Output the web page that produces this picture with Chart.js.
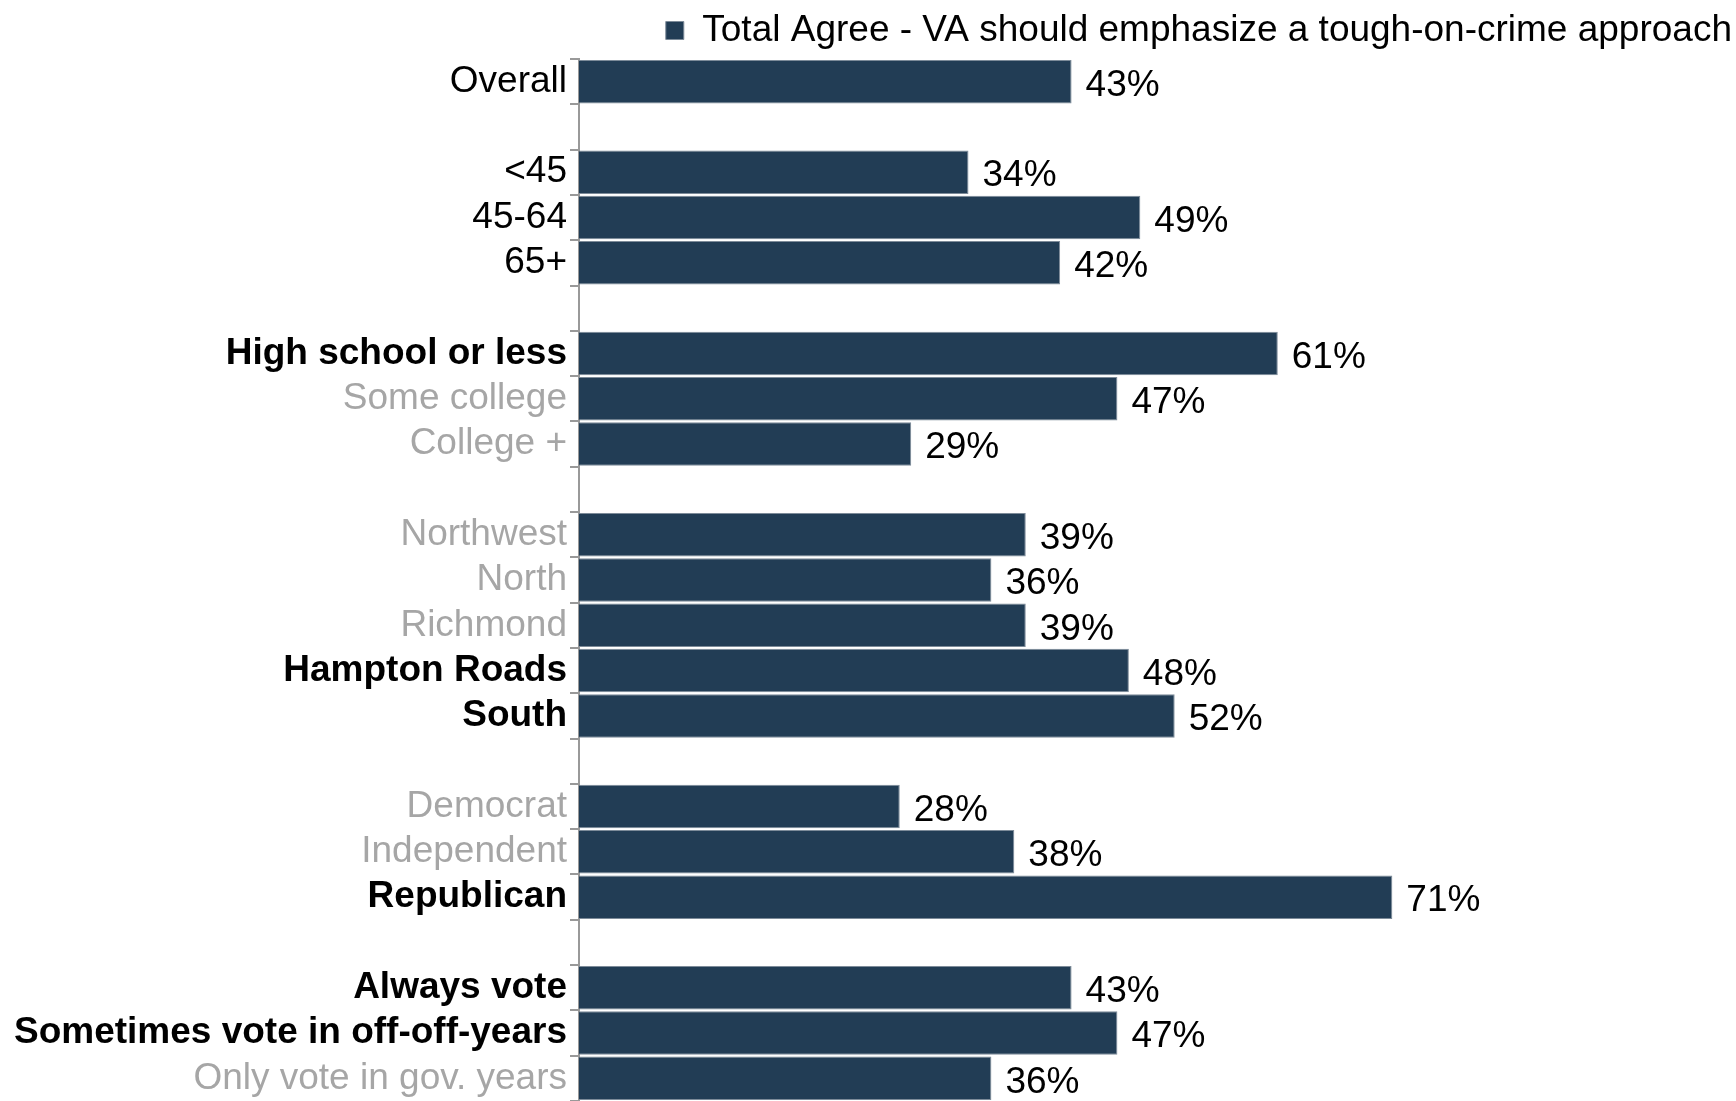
<!DOCTYPE html>
<html>
<head>
<meta charset="utf-8">
<script src="https://cdn.jsdelivr.net/npm/chart.js@4.4.1/dist/chart.umd.min.js"></script>
<style>
  html, body { margin: 0; padding: 0; background: #fff; }
  #wrap { width: 1736px; height: 1101px; position: relative; }
</style>
</head>
<body>
<div id="wrap"><canvas id="crimeChart"></canvas></div>
<script>
// ==========================
// DATOS
// ==========================
const categories = [
    "Overall", "",
    "<45", "45-64", "65+", "",
    "High school or less", "Some college", "College +", "",
    "Northwest", "North", "Richmond", "Hampton Roads", "South", "",
    "Democrat", "Independent", "Republican", "",
    "Always vote", "Sometimes vote in off-off-years", "Only vote in gov. years"
];
const agreeValues = [
    43, null,
    34, 49, 42, null,
    61, 47, 29, null,
    39, 36, 39, 48, 52, null,
    28, 38, 71, null,
    43, 47, 36
];
// estilo de etiqueta: n = normal negro, b = negrita, g = gris
const labelStyle = [
    "n", "n",
    "n", "n", "n", "n",
    "b", "g", "g", "n",
    "g", "g", "g", "b", "b", "n",
    "g", "g", "b", "n",
    "b", "b", "g"
];
const seriesName = "Total Agree - VA should emphasize a tough-on-crime approach";

const FONT = "'Liberation Sans', Arial, sans-serif";
const BAR = "#223d55";

// ==========================
// ETIQUETAS DE VALOR
// ==========================
const valueLabels = {
    id: "valueLabels",
    afterDatasetsDraw(chart){
        const ctx = chart.ctx;
        const meta = chart.getDatasetMeta(0);
        ctx.save();
        ctx.font = "37px " + FONT;
        ctx.fillStyle = "#000";
        ctx.textAlign = "left";
        ctx.textBaseline = "middle";
        meta.data.forEach((bar, i) => {
            const v = agreeValues[i];
            if(v === null) return;
            ctx.fillText(v + "%", bar.x + 14, bar.y + 4);
        });
        ctx.restore();
    }
};

// ==========================
// GRÁFICA
// ==========================
new Chart(document.getElementById("crimeChart"), {
    type: "bar",
    data: {
        labels: categories,
        datasets: [{
            label: seriesName,
            data: agreeValues,
            backgroundColor: BAR,
            borderColor: "#7d8b99",
            borderWidth: 1,
            barPercentage: 0.96,
            categoryPercentage: 1
        }]
    },
    options: {
        indexAxis: "y",
        responsive: true,
        maintainAspectRatio: false,
        animation: false,
        layout: { padding: { top: 7, right: 0, bottom: 0, left: 0 } },
        plugins: {
            tooltip: { enabled: false },
            legend: {
                position: "top",
                align: "end",
                labels: {
                    color: "#000",
                    font: { family: FONT, size: 37 },
                    boxWidth: 18,
                    boxHeight: 18,
                    padding: 4
                }
            }
        },
        scales: {
            x: {
                display: false,
                min: 0,
                max: 101
            },
            y: {
                afterFit(scale){
                    scale.width = 579;
                    scale.paddingTop = 59;   // borde superior del área de gráfica
                    scale.paddingBottom = 0;
                },
                border: { display: true, color: "#999", width: 2 },
                grid: {
                    offset: true,
                    drawOnChartArea: false,
                    drawTicks: true,
                    tickLength: 9,
                    color: "#999",
                    lineWidth: 2
                },
                ticks: {
                    autoSkip: false,
                    padding: 3,
                    color: ctx => labelStyle[ctx.index] === "g" ? "#a6a6a6" : "#000",
                    font: ctx => ({
                        family: FONT,
                        size: 37,
                        weight: labelStyle[ctx.index] === "b" ? "bold" : "normal"
                    })
                }
            }
        }
    },
    plugins: [valueLabels]
});
</script>
</body>
</html>
